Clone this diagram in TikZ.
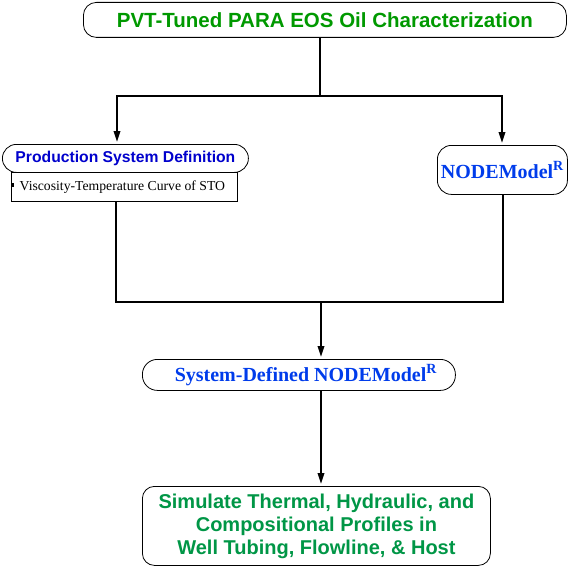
\documentclass[tikz,border=0pt]{standalone}
\usepackage{fontspec}
\setmainfont{Liberation Serif}
\newfontfamily\arialf{Liberation Sans}
\usetikzlibrary{arrows.meta}
\definecolor{topgreen}{RGB}{0,153,0}
\definecolor{simgreen}{RGB}{0,150,70}
\definecolor{prodblue}{RGB}{0,0,204}
\definecolor{nodeblue}{RGB}{0,60,235}
\tikzset{
  rbox/.style={draw=black, line width=0.8pt, rounded corners=#1, anchor=north west, inner sep=0pt, align=center},
  rbox/.default=12pt,
  plainbox/.style={draw=black, line width=0.8pt, anchor=north west, inner sep=0pt},
  wire/.style={line width=2pt},
  arr/.style={line width=2pt, -{Triangle[length=11pt,width=6.5pt]}, shorten >=2pt},
}
\begin{document}
\begin{tikzpicture}[x=1pt,y=1pt]
\useasboundingbox (0,0) rectangle (575,-567);
% boxes
\node[rbox=13pt, minimum width=483pt, minimum height=35pt, text=topgreen,
  font=\arialf\bfseries\fontsize{20.5}{24}\selectfont] (top) at (83,-2)
  {PVT-Tuned PARA EOS Oil Characterization};
\node[rbox=14pt, minimum width=246pt, minimum height=28pt, text=prodblue,
  font=\arialf\bfseries\fontsize{15.7}{18}\selectfont] (prod) at (2,-144)
  {Production System Definition};
\node[plainbox, fill=white, minimum width=226pt, minimum height=29pt] (sub) at (11,-172) {};
\node[anchor=west, inner sep=0pt, font=\fontsize{13.7}{16}\selectfont] (subtxt) at (11,-187)
  {\rule[3.5pt]{2.5pt}{3.5pt}\hspace{6pt}Viscosity-Temperature Curve of STO};
\node[rbox=14pt, minimum width=130pt, minimum height=49pt, text=nodeblue,
  font=\bfseries\fontsize{20}{24}\selectfont] (nodem) at (437,-145)
  {NODEModel\textsuperscript{R}};
\node[rbox=15pt, minimum width=313pt, minimum height=31pt, text=nodeblue,
  font=\bfseries\fontsize{20}{24}\selectfont] (sys) at (142,-359)
  {\hspace{14pt}System-Defined NODEModel\textsuperscript{R}};
\node[rbox=12pt, minimum width=348pt, minimum height=79pt, text=simgreen,
  font=\arialf\bfseries\fontsize{20}{23}\selectfont] (sim) at (142,-486)
  {Simulate Thermal, Hydraulic, and\\Compositional Profiles in\\Well Tubing, Flowline, \& Host};
% junctions
\coordinate (j1) at (320,-96);
\coordinate (jl) at (117,-96);
\coordinate (jr) at (502,-96);
\coordinate (kl) at (116,-302);
\coordinate (kr) at (503,-302);
\coordinate (km) at (321,-302);
% connectors
\draw[wire] (top.south -| j1) -- (j1);
\draw[wire] ([xshift=-1pt]jl) -- ([xshift=1pt]jr);
\draw[arr] (jl) -- (prod.north -| jl);
\draw[arr] (jr) -- (nodem.north -| jr);
\draw[wire] (sub.south -| kl) -- (kl) -- (kr) -- (nodem.south -| kr);
\draw[arr] (km) -- (sys.north -| km);
\draw[arr] (sys.south -| km) -- (sim.north -| km);
\end{tikzpicture}
\end{document}
